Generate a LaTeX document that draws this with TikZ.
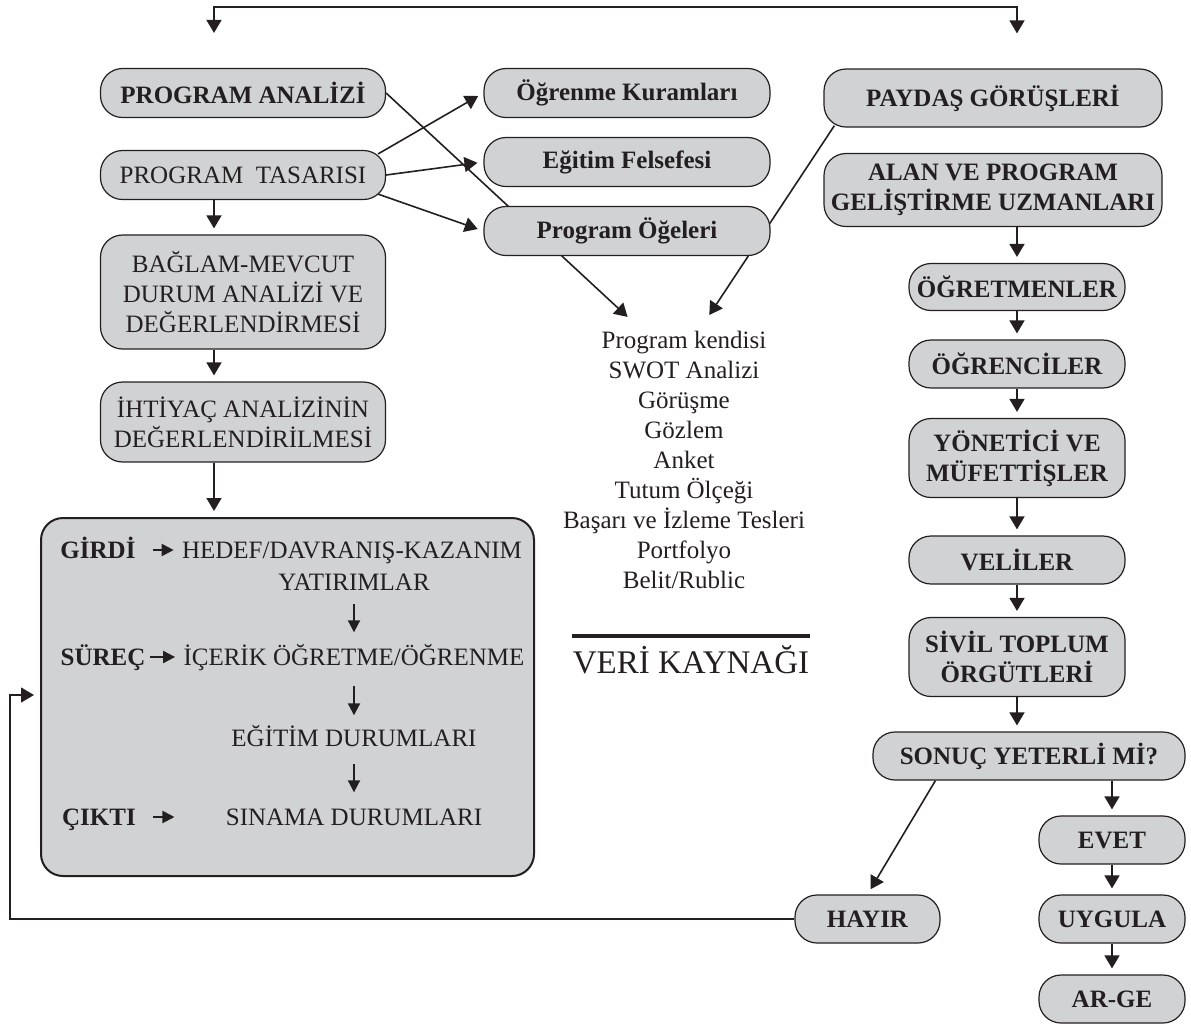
\documentclass[tikz,border=0pt]{standalone}
\usepackage{fontspec}
\setmainfont{Liberation Serif}
\usetikzlibrary{arrows.meta,backgrounds}
\definecolor{kutugri}{RGB}{209,210,212}
\definecolor{cizgi}{RGB}{35,31,32}
\newcommand{\yazi}{\fontsize{12.5}{15}\selectfont}

\begin{document}
\begin{tikzpicture}[x=0.5pt, y=-0.5pt,
        every node/.style={font=\yazi, text=cizgi},
        kutu/.style={draw=cizgi, fill=kutugri, line width=0.6pt, rounded corners=11pt,
            align=center, inner sep=0pt, font=\yazi\bfseries},
        sol/.style={kutu, minimum width=142.5pt},
        orta/.style={kutu, minimum width=143pt, minimum height=24.5pt},
        sag/.style={kutu, minimum width=108pt},
        kucuk/.style={kutu, minimum width=73pt, minimum height=24pt},
        ic/.style={inner sep=0pt, text height=8.3pt, text depth=0pt},
        ok/.style={-{Triangle[length=6.5pt,width=7.5pt]}, line width=0.8pt, draw=cizgi, shorten >=3pt},
        ciftok/.style={{Triangle[length=6.5pt,width=7.5pt]}-{Triangle[length=6.5pt,width=7.5pt]}, line width=0.8pt, draw=cizgi},
        kisa/.style={-{Triangle[length=6pt,width=6pt]}, line width=1pt, draw=cizgi}]
    \useasboundingbox (0,0) rectangle (1191,1025);

    \node[sol, minimum height=24.5pt] (ana) at (243,93) {PROGRAM ANALİZİ};
    \node[sol, minimum height=24.5pt, font=\yazi] (tas) at (243,175) {PROGRAM\ \ TASARISI};
    \node[sol, minimum height=57pt, font=\yazi] (bag) at (243,292) {BAĞLAM-MEVCUT\\DURUM ANALİZİ VE\\DEĞERLENDİRMESİ};
    \node[sol, minimum height=40pt, font=\yazi] (iht) at (243,422) {İHTİYAÇ ANALİZİNİN\\DEĞERLENDİRİLMESİ};
    \node[kutu, line width=1pt, minimum width=246.5pt, minimum height=179pt] (sys) at (287.5,697) {};

    \node[ic, font=\yazi\bfseries] (girdi) at (98,550) {GİRDİ};
    \node[ic] (hedef) at (352,550) {HEDEF/DAVRANIŞ-KAZANIM};
    \node[ic] (yat) at (354,582) {YATIRIMLAR};
    \node[ic, font=\yazi\bfseries] (surec) at (103,657) {SÜREÇ};
    \node[ic] (icerik) at (354,657) {İÇERİK ÖĞRETME/ÖĞRENME};
    \node[ic] (egitim) at (354,738) {EĞİTİM DURUMLARI};
    \node[ic, font=\yazi\bfseries] (cikti) at (99,817) {ÇIKTI};
    \node[ic] (sinama) at (354,817) {SINAMA DURUMLARI};

    \node[orta] (kur) at (627,93) {Öğrenme Kuramları};
    \node[orta] (fel) at (627,162) {Eğitim Felsefesi};
    \node[orta] (oge) at (627,231) {Program Öğeleri};

    \node[align=center] (kay) at (684,460) {Program kendisi\\SWOT Analizi\\Görüşme\\Gözlem\\Anket\\Tutum Ölçeği\\Başarı ve İzleme Tesleri\\Portfolyo\\Belit/Rublic};
    \node[inner sep=0pt, minimum width=118.5pt, font=\fontsize{16.5}{20}\selectfont] (veri) at (691,660) {VERİ KAYNAĞI};

    \node[kutu, minimum width=169pt, minimum height=29pt] (pay) at (993,98) {PAYDAŞ GÖRÜŞLERİ};
    \node[kutu, minimum width=169pt, minimum height=36.5pt] (alan) at (993,190) {ALAN VE PROGRAM\\GELİŞTİRME UZMANLARI};
    \node[sag, minimum height=23.5pt] (ogr) at (1017,287) {ÖĞRETMENLER};
    \node[sag, minimum height=24pt] (ogc) at (1017,364) {ÖĞRENCİLER};
    \node[sag, minimum height=39.5pt] (yon) at (1017,458) {YÖNETİCİ VE\\MÜFETTİŞLER};
    \node[sag, minimum height=24pt] (vel) at (1017,560) {VELİLER};
    \node[sag, minimum height=39.5pt] (siv) at (1017,657) {SİVİL TOPLUM\\ÖRGÜTLERİ};
    \node[kutu, minimum width=156pt, minimum height=24pt] (son) at (1029,756) {SONUÇ YETERLİ Mİ?};
    \node[kucuk] (evet) at (1112,840) {EVET};
    \node[kucuk] (uyg) at (1112,919) {UYGULA};
    \node[kucuk] (arge) at (1112,999) {AR-GE};
    \node[kucuk, minimum width=72.5pt] (hay) at (867.5,919) {HAYIR};

    \coordinate (sut) at (214,0);
    \coordinate (ust) at (600,7);
    \coordinate (geri) at (10,695);
    \coordinate (liste1) at (632,321);
    \coordinate (liste2) at (706,320);

    \draw[ciftok, shorten <=17.5pt, shorten >=17.5pt] (ana.north -| sut) |- (ust) -| (pay.north -| ogr);
    \draw[ok] (tas.south -| sut) -- (bag.north -| sut);
    \draw[ok] (bag.south -| sut) -- (iht.north -| sut);
    \draw[ok] (iht.south -| sut) -- (sys.north -| sut);

    \draw[ok] ([xshift=-4pt,yshift=-2pt]tas.north east) -- (kur.west);
    \draw[ok] (tas.east) -- (fel.west);
    \draw[ok] ([xshift=-4pt,yshift=3pt]tas.south east) -- (oge.west);
    \begin{scope}[on background layer]
        \draw[ok] (ana.east) -- (liste1);
        \draw[ok] ([xshift=5.5pt,yshift=1pt]pay.south west) -- (liste2);
    \end{scope}
    \draw[line width=2pt, cizgi] ([yshift=12pt]veri.west) -- ([yshift=12pt]veri.east);

    \draw[kisa, shorten <=8.5pt, shorten >=4pt] (girdi) -- (hedef);
    \draw[kisa, shorten <=2pt, shorten >=4pt] (surec) -- (icerik);
    \draw[kisa, shorten <=8.5pt, shorten >=25.5pt] (cikti) -- (sinama);
    \draw[kisa, shorten <=6.5pt, shorten >=8pt] (yat.south -| icerik) -- (icerik);
    \draw[kisa, shorten <=10pt, shorten >=7pt] (icerik) -- (egitim);
    \draw[kisa, shorten <=8.5pt, shorten >=8pt] (egitim) -- (sinama);

    \draw[ok] (alan.south -| ogr) -- (ogr);
    \draw[ok] (ogr) -- (ogc);
    \draw[ok] (ogc) -- (yon);
    \draw[ok] (yon) -- (vel);
    \draw[ok] (vel) -- (siv);
    \draw[ok] (siv) -- (siv |- son.north);
    \draw[ok] (son.south -| evet) -- (evet);
    \draw[ok] (evet) -- (uyg);
    \draw[ok] (uyg) -- (arge);
    \draw[ok] ([xshift=31.5pt]son.south west) -- (hay.north);
    \draw[ok, line width=0.6pt] (hay.west) -| (geri) -- (geri -| sys.west);
\end{tikzpicture}
\end{document}
